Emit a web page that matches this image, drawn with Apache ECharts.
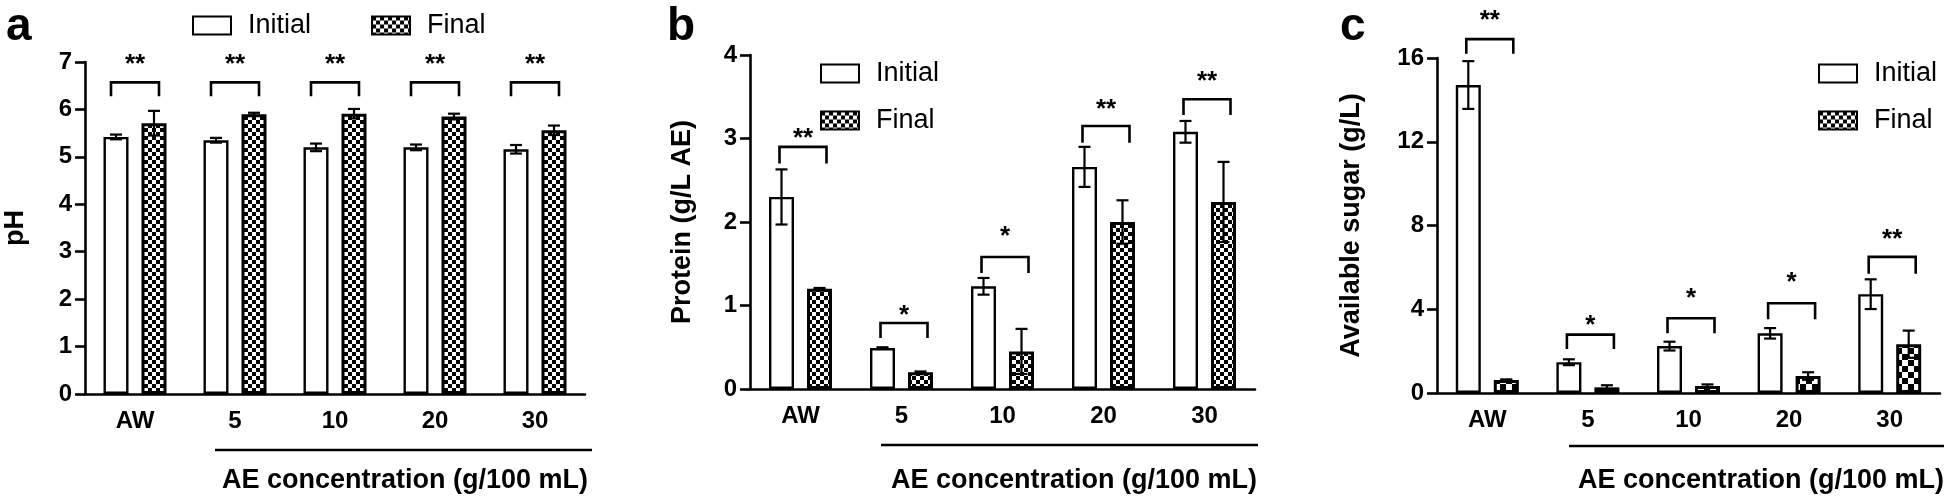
<!DOCTYPE html>
<html>
<head>
<meta charset="utf-8">
<script src="https://cdn.jsdelivr.net/npm/echarts@6/dist/echarts.min.js"></script>
<style>
html,body{margin:0;padding:0;background:#fff;}
#chart{width:1946px;height:504px;}
</style>
</head>
<body>
<div id="chart"></div>
<script>
// ---------- DATA ----------
const categories = ['AW', '5', '10', '20', '30'];
const seriesNames = ['Initial', 'Final'];

// Panel a: pH
const phInitial    = [5.42, 5.35, 5.20, 5.20, 5.16];
const phInitialErr = [0.05, 0.05, 0.08, 0.06, 0.09];
const phFinal      = [5.71, 5.90, 5.91, 5.85, 5.56];
const phFinalErr   = [0.26, 0.03, 0.10, 0.06, 0.10];
const phBracketTop = [6.57, 6.57, 6.57, 6.57, 6.57];
const phBracketLeg = [6.28, 6.28, 6.28, 6.28, 6.28];
const phStarY      = [7.07, 7.07, 7.07, 7.07, 7.07];
const phStars      = ['**', '**', '**', '**', '**'];
const phTicks      = [0, 7, 1]; // min, max, interval

// Panel b: Protein
const protInitial    = [2.30, 0.49, 1.23, 2.66, 3.08];
const protInitialErr = [0.33, 0.01, 0.10, 0.24, 0.13];
const protFinal      = [1.20, 0.20, 0.45, 2.00, 2.24];
const protFinalErr   = [0.01, 0.01, 0.27, 0.26, 0.48];
const protBracketTop = [2.90, 0.79, 1.58, 3.15, 3.47];
const protBracketLeg = [2.70, 0.61, 1.39, 2.95, 3.28];
const protStarY      = [3.07, 0.95, 1.90, 3.42, 3.75];
const protStars      = ['**', '*', '*', '**', '**'];
const protTicks      = [0, 4, 1];

// Panel c: Available sugar
const sugarInitial    = [14.71, 1.47, 2.24, 2.85, 4.72];
const sugarInitialErr = [1.14, 0.14, 0.21, 0.25, 0.71];
const sugarFinal      = [0.62, 0.27, 0.33, 0.81, 2.33];
const sugarFinalErr   = [0.03, 0.10, 0.08, 0.18, 0.65];
const sugarBracketTop = [16.9, 2.79, 3.57, 4.29, 6.5];
const sugarBracketLeg = [16.2, 2.10, 2.85, 3.52, 5.7];
const sugarStarY      = [18.05, 3.5, 4.8, 5.55, 7.6];
const sugarStars      = ['**', '*', '*', '*', '**'];
const sugarTicks      = [0, 16, 4];

const yTitles = ['pH', 'Protein (g/L AE)', 'Available sugar (g/L)'];
const xTitle = 'AE concentration (g/100 mL)';
const panelLetters = ['a', 'b', 'c'];

// ---------- STYLE / LAYOUT ----------
const FONT = "'Liberation Sans', Arial, Helvetica, sans-serif";

function checker(cell) {
  const c = document.createElement('canvas');
  c.width = cell * 2; c.height = cell * 2;
  const ctx = c.getContext('2d');
  ctx.fillStyle = '#fff'; ctx.fillRect(0, 0, c.width, c.height);
  ctx.fillStyle = '#000';
  ctx.fillRect(0, 0, cell, cell);
  ctx.fillRect(cell, cell, cell, cell);
  return { image: c, repeat: 'repeat' };
}

const panels = [
  { grid: { left: 85, top: 62, width: 500, height: 332 }, ticks: phTicks,
    ini: phInitial, iniErr: phInitialErr, fin: phFinal, finErr: phFinalErr,
    bTop: phBracketTop, bLeg: phBracketLeg, bStar: phStarY, stars: phStars,
    brL: -24, brR: 24, nameGap: 56, cell: 4,
    legend: { left: 187, top: 7, orient: 'horizontal', itemGap: 60 },
    line: [215, 450, 592], text: [588, 481], letter: [6, 27] },
  { grid: { left: 750, top: 55, width: 505, height: 334 }, ticks: protTicks,
    ini: protInitial, iniErr: protInitialErr, fin: protFinal, finErr: protFinalErr,
    bTop: protBracketTop, bLeg: protBracketLeg, bStar: protStarY, stars: protStars,
    brL: -21, brR: 26, nameGap: 54, cell: 4,
    legend: { left: 815, top: 55, orient: 'vertical', itemGap: 20 },
    line: [881, 445, 1258], text: [1257, 481], letter: [667, 27] },
  { grid: { left: 1437, top: 58, width: 503, height: 335 }, ticks: sugarTicks,
    ini: sugarInitial, iniErr: sugarInitialErr, fin: sugarFinal, finErr: sugarFinalErr,
    bTop: sugarBracketTop, bLeg: sugarBracketLeg, bStar: sugarStarY, stars: sugarStars,
    brL: -21, brR: 26, nameGap: 72, cell: 6,
    legend: { left: 1813, top: 55, orient: 'vertical', itemGap: 20 },
    line: [1569, 446, 1944], text: [1944, 481], letter: [1340, 27] }
];

const BAR_OFFSET = 19;

function errRender(offset) {
  return function (params, api) {
    const i = api.value(0), v = api.value(1), e = api.value(2);
    const top = api.coord([i, v + e]);
    const bot = api.coord([i, v - e]);
    const x = top[0] + offset;
    const cap = 6;
    const st = { stroke: '#000', lineWidth: 2.2 };
    return { type: 'group', children: [
      { type: 'line', shape: { x1: x, y1: top[1], x2: x, y2: bot[1] }, style: st },
      { type: 'line', shape: { x1: x - cap, y1: top[1], x2: x + cap, y2: top[1] }, style: st },
      { type: 'line', shape: { x1: x - cap, y1: bot[1], x2: x + cap, y2: bot[1] }, style: st }
    ] };
  };
}

function bracketRender(p) {
  return function (params, api) {
    const i = api.value(0);
    const pTop = api.coord([i, api.value(1)]);
    const pLeg = api.coord([i, api.value(2)]);
    const pStar = api.coord([i, api.value(3)]);
    const xc = pTop[0];
    const xl = xc + p.brL, xr = xc + p.brR;
    return { type: 'group', children: [
      { type: 'polyline',
        shape: { points: [[xl, pLeg[1]], [xl, pTop[1]], [xr, pTop[1]], [xr, pLeg[1]]] },
        style: { stroke: '#000', lineWidth: 2.6, fill: null } },
      { type: 'text', x: (xl + xr) / 2, y: pStar[1] + 6,
        style: { text: p.stars[params.dataIndex], fill: '#000',
                 font: 'bold 26px ' + FONT, align: 'center', verticalAlign: 'middle' } }
    ] };
  };
}

const grids = [], xAxes = [], yAxes = [], series = [], legends = [], graphics = [];

panels.forEach((p, k) => {
  grids.push(p.grid);
  xAxes.push({
    type: 'category', gridIndex: k, data: categories,
    axisLine: { lineStyle: { color: '#000', width: 2.6 } },
    axisTick: { alignWithLabel: true, length: 10, lineStyle: { color: '#000', width: 2.6 } },
    axisLabel: { color: '#000', fontWeight: 'bold', fontSize: 24, fontFamily: FONT, margin: 15 }
  });
  yAxes.push({
    type: 'value', gridIndex: k, min: p.ticks[0], max: p.ticks[1], interval: p.ticks[2],
    name: yTitles[k], nameLocation: 'middle', nameGap: p.nameGap,
    nameTextStyle: { color: '#000', fontWeight: 'bold', fontSize: 27, fontFamily: FONT },
    axisLine: { show: true, lineStyle: { color: '#000', width: 2.6 } },
    axisTick: { show: true, length: 10, lineStyle: { color: '#000', width: 2.6 } },
    axisLabel: { color: '#000', fontWeight: 'bold', fontSize: 24, fontFamily: FONT, margin: 13 },
    splitLine: { show: false }
  });
  series.push({
    name: seriesNames[0], type: 'bar', xAxisIndex: k, yAxisIndex: k, data: p.ini,
    barWidth: 25, barGap: '52%',
    itemStyle: { color: '#fff', borderColor: '#000', borderWidth: 2.4 }
  });
  series.push({
    name: seriesNames[1], type: 'bar', xAxisIndex: k, yAxisIndex: k, data: p.fin,
    barWidth: 25, barGap: '52%',
    itemStyle: { color: checker(p.cell), borderColor: '#000', borderWidth: 3 }
  });
  series.push({
    type: 'custom', xAxisIndex: k, yAxisIndex: k, clip: false, z: 5,
    renderItem: errRender(-BAR_OFFSET),
    data: p.ini.map((v, i) => [i, v, p.iniErr[i]])
  });
  series.push({
    type: 'custom', xAxisIndex: k, yAxisIndex: k, clip: false, z: 5,
    renderItem: errRender(BAR_OFFSET),
    data: p.fin.map((v, i) => [i, v, p.finErr[i]])
  });
  series.push({
    type: 'custom', xAxisIndex: k, yAxisIndex: k, clip: false, z: 5,
    renderItem: bracketRender(p),
    data: p.bTop.map((v, i) => [i, v, p.bLeg[i], p.bStar[i]])
  });
  legends.push({
    data: seriesNames, left: p.legend.left, top: p.legend.top, orient: p.legend.orient,
    itemGap: p.legend.itemGap, itemWidth: 38, itemHeight: 18, icon: 'rect',
    selectedMode: false,
    textStyle: { color: '#000', fontSize: 27, fontFamily: FONT, padding: [0, 0, 0, 12] }
  });
  graphics.push({
    type: 'line', shape: { x1: p.line[0], y1: p.line[1], x2: p.line[2], y2: p.line[1] },
    style: { stroke: '#000', lineWidth: 2.6 }
  });
  graphics.push({
    type: 'text', x: p.text[0], y: p.text[1],
    style: { text: xTitle, fill: '#000', font: 'bold 27px ' + FONT, align: 'right', verticalAlign: 'middle' }
  });
  graphics.push({
    type: 'text', x: p.letter[0], y: p.letter[1],
    style: { text: panelLetters[k], fill: '#000', font: 'bold 46px ' + FONT, align: 'left', verticalAlign: 'middle' }
  });
});

const chart = echarts.init(document.getElementById('chart'), null, { renderer: 'canvas' });
chart.setOption({
  animation: false,
  backgroundColor: '#fff',
  grid: grids, xAxis: xAxes, yAxis: yAxes, series: series, legend: legends,
  graphic: graphics
});
</script>
</body>
</html>
